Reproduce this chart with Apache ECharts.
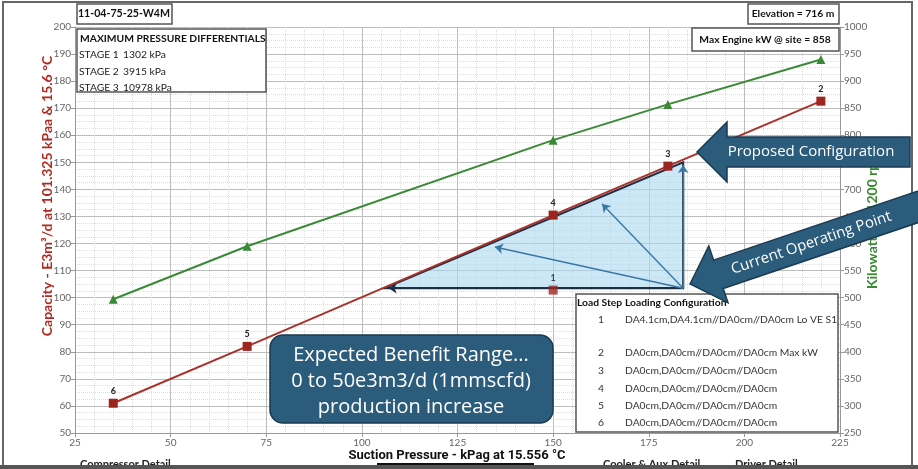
<!DOCTYPE html>
<html>
<head>
<meta charset="utf-8">
<script src="https://cdn.jsdelivr.net/npm/echarts@6/dist/echarts.min.js"></script>
<style>
  html, body { margin: 0; padding: 0; background: #fff; }
  #chart { width: 918px; height: 469px; }
</style>
</head>
<body>
<div id="chart"></div>
<script>
// load steps on the capacity curve
const stepNames = ['6', '5', '4', '3', '2'];
const stepSuction = [35, 70, 150, 180, 220];
const stepCapacity = [61, 82, 130.5, 148.6, 172.6];
// current operating point (step 1), off the curve
const step1 = [150, 102.8];

// engine power (right axis)
const kwSuction = [35, 70, 150, 180, 220];
const kwValues = [497, 595, 791, 857, 940];

// expected benefit triangle + arrows (data units)
const benefitArea = [[106, 103.5], [184, 103.5], [184, 150]];
const benefitArrows = [
  [[184, 103.5], [107, 103.5]],
  [[184, 103.5], [134.8, 118.7]],
  [[184, 103.5], [162.8, 134.6]],
  [[184, 103.5], [184, 149]]
];

const loadSteps = ['1', '', '2', '3', '4', '5', '6'];
const loadConfigs = [
  'DA4.1cm,DA4.1cm//DA0cm//DA0cm Lo VE S1',
  '',
  'DA0cm,DA0cm//DA0cm//DA0cm Max kW',
  'DA0cm,DA0cm//DA0cm//DA0cm',
  'DA0cm,DA0cm//DA0cm//DA0cm',
  'DA0cm,DA0cm//DA0cm//DA0cm',
  'DA0cm,DA0cm//DA0cm//DA0cm'
];
const stageNames = ['STAGE 1', 'STAGE 2', 'STAGE 3'];
const stageDiffs = ['1302 kPa', '3915 kPa', '10978 kPa'];

const FONT = 'Lato';
const RED = '#a8322b';
const GREEN = '#3a8a35';
const NAVY = '#2b5c7c';

const chart = echarts.init(document.getElementById('chart'));

function box(x, y, w, h) {
  return { type: 'rect', z: 100, shape: { x: x, y: y, width: w, height: h },
    style: { fill: '#fff', stroke: '#555', lineWidth: 1.5 } };
}
function txt(x, y, t, opt) {
  return { type: 'text', z: 101, x: x, y: y, style: Object.assign({
    text: t, fontFamily: FONT, fontSize: 10.3, fill: '#333', verticalAlign: 'middle'
  }, opt || {}) };
}

const graphics = [];
// outer frame
graphics.push({ type: 'rect', z: 100, shape: { x: 3, y: 2, width: 909, height: 464 },
  style: { fill: 'none', stroke: '#666', lineWidth: 2 } });

// axis names
const leftName = txt(47, 196, 'Capacity - E3m\u00b3/d at 101.325 kPaa & 15.6 \u00b0C', {
  fontSize: 14, fontWeight: 'bold', fill: '#b02a22', align: 'center' });
leftName.rotation = Math.PI / 2;
graphics.push(leftName);
const rightName = txt(872, 220, 'Kilowatts @ 1200 rpm', {
  fontSize: 14, fontWeight: 'bold', fill: GREEN, align: 'center' });
rightName.rotation = Math.PI / 2;
graphics.push(rightName);
graphics.push(txt(457, 456, 'Suction Pressure - kPag at 15.556 \u00b0C', {
  fontSize: 13, fontWeight: 'bold', fill: '#111', align: 'center', fontFamily: 'Roboto' }));

// cut-off footer
graphics.push(txt(80, 464, 'Compressor Detail', { fontWeight: 'bold', fill: '#222', fontSize: 11 }));
graphics.push(txt(603, 464, 'Cooler & Aux Detail', { fontWeight: 'bold', fill: '#222', fontSize: 11 }));
graphics.push(txt(735, 464, 'Driver Detail', { fontWeight: 'bold', fill: '#222', fontSize: 11 }));
graphics.push({ type: 'rect', z: 102, shape: { x: 0, y: 465, width: 918, height: 4 }, style: { fill: '#555' } });
graphics.push({ type: 'rect', z: 102, shape: { x: 377, y: 463, width: 157, height: 2 }, style: { fill: '#111' } });

// info boxes
graphics.push(box(77, 4, 95, 20));
graphics.push(txt(124, 14, '11-04-75-25-W4M', { fontWeight: 'bold', fill: '#111', fontSize: 10.6, align: 'center' }));
graphics.push(box(77, 29, 189, 63));
graphics.push(txt(80, 39, 'MAXIMUM PRESSURE DIFFERENTIALS', { fontWeight: 'bold', fill: '#111' }));
stageNames.forEach(function (s, i) {
  graphics.push(txt(79, 55 + i * 16.3, s, { fill: '#222' }));
  graphics.push(txt(123, 55 + i * 16.3, stageDiffs[i], { fill: '#222' }));
});
graphics.push(box(748, 4, 91, 20));
graphics.push(txt(793, 14, 'Elevation = 716 m', { fontWeight: 'bold', fill: '#111', align: 'center' }));
graphics.push(box(692, 28, 147, 23));
graphics.push(txt(765, 40, 'Max Engine kW @ site = 858', { fontWeight: 'bold', fill: '#111', align: 'center' }));

// load step table
graphics.push(box(576, 294, 262, 138));
graphics.push(txt(577, 303, 'Load Step', { fontWeight: 'bold', fill: '#111' }));
graphics.push(txt(625, 303, 'Loading Configuration', { fontWeight: 'bold', fill: '#111' }));
const rowY = [320, 336, 353, 371, 389, 406, 423];
loadSteps.forEach(function (s, i) {
  graphics.push(txt(601, rowY[i], s, { align: 'center' }));
  graphics.push(txt(625, rowY[i], loadConfigs[i]));
});

// benefit callout
graphics.push({ type: 'rect', z: 100, shape: { x: 270, y: 335, width: 283, height: 88, r: 13 },
  style: { fill: NAVY, stroke: '#1b3a50', lineWidth: 1.5 } });
['Expected Benefit Range...', '0 to 50e3m3/d (1mmscfd)', 'production increase'].forEach(function (t, i) {
  graphics.push(txt(411, 355 + i * 26, t, { fontSize: 20, fill: '#fff', align: 'center', fontFamily: 'Open Sans' }));
});

// block arrows
function blockArrow(x, y, rot, len, textAt, label) {
  return {
    type: 'group', x: x, y: y, rotation: rot,
    children: [
      { type: 'polygon', z: 110, shape: { points: [[0, 0], [30, -30], [30, -15], [len, -15], [len, 15], [30, 15], [30, 30]] },
        style: { fill: NAVY, stroke: '#1b3a50', lineWidth: 1.5 } },
      { type: 'text', z: 111, x: textAt, y: 0,
        style: { text: label, fontFamily: 'Open Sans', fontSize: 15, fill: '#fff', align: 'center', verticalAlign: 'middle' } }
    ]
  };
}
graphics.push(blockArrow(697, 152, 0, 213, 114, 'Proposed Configuration'));
graphics.push(blockArrow(690, 284, 18.7 * Math.PI / 180, 260, 128, 'Current Operating Point'));

const plainLabel = function (v) { return String(v); };

const option = {
  animation: false,
  backgroundColor: '#fff',
  grid: { left: 75, right: 78, top: 27, bottom: 36 },
  xAxis: {
    type: 'value', min: 25, max: 225, interval: 25,
    axisLine: { lineStyle: { color: '#999' } },
    axisTick: { show: true, length: 4, lineStyle: { color: '#999' } },
    axisLabel: { color: '#666', fontSize: 10, fontFamily: FONT, margin: 5 },
    splitLine: { lineStyle: { color: '#bdbdbd' } },
    minorTick: { show: false, splitNumber: 5 },
    minorSplitLine: { show: true, lineStyle: { color: '#dedede', type: 'dotted' } }
  },
  yAxis: [{
    type: 'value', min: 50, max: 200, interval: 10,
    axisLine: { show: true, lineStyle: { color: '#999' } },
    axisTick: { show: true, length: 4, lineStyle: { color: '#999' } },
    axisLabel: { color: '#666', fontSize: 10, fontFamily: FONT, margin: 4 },
    splitLine: { lineStyle: { color: '#bdbdbd' } },
    minorTick: { show: false, splitNumber: 4 },
    minorSplitLine: { show: true, lineStyle: { color: '#dedede', type: 'dotted' } }
  }, {
    type: 'value', min: 250, max: 1000, interval: 50, position: 'right',
    axisLine: { show: true, lineStyle: { color: '#999' } },
    axisTick: { show: true, length: 4, lineStyle: { color: '#999' } },
    axisLabel: { color: '#666', fontSize: 10, fontFamily: FONT, margin: 4, formatter: plainLabel },
    splitLine: { show: false }
  }],
  series: [
    {
      type: 'custom', name: 'benefit', z: 1,
      renderItem: function (params, api) {
        const pts = benefitArea.map(function (p) { return api.coord(p); });
        return { type: 'polygon', shape: { points: pts },
          style: { fill: 'rgba(170, 215, 240, 0.6)', stroke: '#1c2f44', lineWidth: 2 } };
      },
      data: [benefitArea[0]]
    },
    {
      type: 'lines', coordinateSystem: 'cartesian2d', z: 2,
      symbol: ['none', 'arrow'], symbolSize: 8,
      lineStyle: { color: '#3a78a3', width: 1.4, opacity: 1 },
      data: benefitArrows.map(function (c, i) {
        return i === 0 ? { coords: c, lineStyle: { color: '#1c2f44', width: 2 } } : { coords: c };
      })
    },
    {
      type: 'line', name: 'Capacity', z: 3,
      data: stepSuction.map(function (x, i) { return [x, stepCapacity[i]]; }),
      lineStyle: { color: RED, width: 2 },
      symbol: 'rect', symbolSize: 9,
      itemStyle: { color: '#9e2420' },
      label: {
        show: true, position: 'top', distance: 3, fontSize: 9, fontWeight: 'bold', color: '#222', fontFamily: FONT,
        formatter: function (p) { return stepNames[p.dataIndex]; }
      }
    },
    {
      type: 'scatter', name: 'Step 1', z: 3,
      data: [step1],
      symbol: 'rect', symbolSize: 9,
      itemStyle: { color: '#9e2420' },
      label: { show: true, position: 'top', distance: 3, fontSize: 9, fontWeight: 'bold', color: '#222', fontFamily: FONT, formatter: '1' }
    },
    {
      type: 'line', name: 'kW', yAxisIndex: 1, z: 3,
      data: kwSuction.map(function (x, i) { return [x, kwValues[i]]; }),
      lineStyle: { color: GREEN, width: 2 },
      symbol: 'triangle', symbolSize: 9,
      itemStyle: { color: GREEN }
    }
  ],
  graphic: graphics
};

chart.setOption(option);
</script>
</body>
</html>
